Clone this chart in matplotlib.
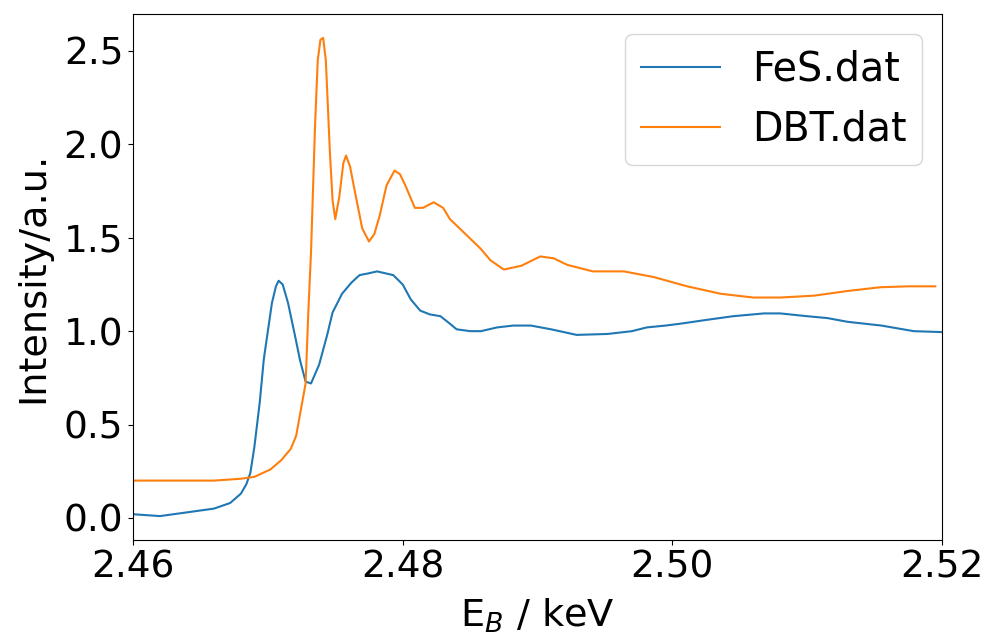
#!/usr/bin/env python
import matplotlib
matplotlib.use('Agg')
import matplotlib.pyplot as plt

# S K-edge spectra (energy in keV)
fes_e = [2.4600, 2.4620, 2.4640, 2.4660, 2.4672, 2.4680, 2.4684, 2.4687,
         2.4690, 2.4694, 2.4697, 2.4700, 2.4703, 2.4706, 2.4708, 2.4711,
         2.4715, 2.4720, 2.4724, 2.4728, 2.4732, 2.4738, 2.4744, 2.4748,
         2.4755, 2.4762, 2.4768, 2.4775, 2.4781, 2.4787, 2.4793, 2.4800,
         2.4806, 2.4813, 2.4820, 2.4828, 2.4835, 2.4840, 2.4850, 2.4858,
         2.4870, 2.4882, 2.4895, 2.4910, 2.4929, 2.4952, 2.4970, 2.4981,
         2.4995, 2.5006, 2.5025, 2.5045, 2.5068, 2.5080, 2.5100, 2.5115,
         2.5130, 2.5155, 2.5179, 2.5200]
fes_i = [0.02, 0.01, 0.03, 0.05, 0.08, 0.13, 0.18, 0.24,
         0.38, 0.62, 0.85, 1.00, 1.15, 1.24, 1.27, 1.25,
         1.15, 0.98, 0.84, 0.73, 0.72, 0.82, 0.98, 1.10,
         1.20, 1.26, 1.30, 1.31, 1.32, 1.31, 1.30, 1.25,
         1.17, 1.11, 1.09, 1.08, 1.04, 1.01, 1.00, 1.00,
         1.02, 1.03, 1.03, 1.01, 0.98, 0.985, 1.00, 1.02,
         1.03, 1.04, 1.06, 1.08, 1.095, 1.095, 1.08, 1.07,
         1.05, 1.03, 1.00, 0.995]

dbt_e = [2.4600, 2.4620, 2.4640, 2.4660, 2.4680, 2.4690, 2.4702, 2.4710,
         2.4717, 2.4721, 2.4724, 2.4728, 2.4730, 2.4732, 2.4735, 2.4737,
         2.4739, 2.4741, 2.4743, 2.4746, 2.4748, 2.4750, 2.4753, 2.4756,
         2.4758, 2.4761, 2.4765, 2.4770, 2.4775, 2.4779, 2.4783, 2.4788,
         2.4794, 2.4798, 2.4802, 2.4809, 2.4815, 2.4823, 2.4830, 2.4835,
         2.4848, 2.4858, 2.4865, 2.4875, 2.4888, 2.4902, 2.4912, 2.4922,
         2.4941, 2.4964, 2.4986, 2.5011, 2.5036, 2.5060, 2.5080, 2.5105,
         2.5130, 2.5154, 2.5175, 2.5195]
dbt_i = [0.20, 0.20, 0.20, 0.20, 0.21, 0.22, 0.26, 0.31,
         0.37, 0.44, 0.56, 0.72, 1.10, 1.42, 2.10, 2.45,
         2.56, 2.57, 2.45, 1.96, 1.70, 1.60, 1.72, 1.90,
         1.94, 1.88, 1.73, 1.55, 1.48, 1.52, 1.62, 1.78,
         1.86, 1.84, 1.78, 1.66, 1.66, 1.69, 1.66, 1.60,
         1.51, 1.44, 1.38, 1.33, 1.35, 1.40, 1.39, 1.355,
         1.32, 1.32, 1.29, 1.24, 1.20, 1.18, 1.18, 1.19,
         1.215, 1.235, 1.24, 1.24]

plt.rcParams['font.size'] = 28
plt.rcParams['xtick.labelsize'] = 27
plt.rcParams['ytick.labelsize'] = 27

fig = plt.figure(figsize=(9.89, 6.35), dpi=100)
ax = fig.add_axes([0.1345, 0.1496, 0.818, 0.8284])
ax.plot(fes_e, fes_i, label='FeS.dat')
ax.plot(dbt_e, dbt_i, label='DBT.dat')
ax.set_xlim(2.46, 2.52)
ax.set_xticks([2.46, 2.48, 2.50, 2.52])
ax.set_xlabel('E$_B$ / keV', fontsize=27.5, labelpad=8)
ax.set_ylabel('Intensity/a.u.', fontsize=27.5, labelpad=9)
ax.legend(loc='upper right', fontsize=28.5)
fig.savefig('out.png', dpi=100)
